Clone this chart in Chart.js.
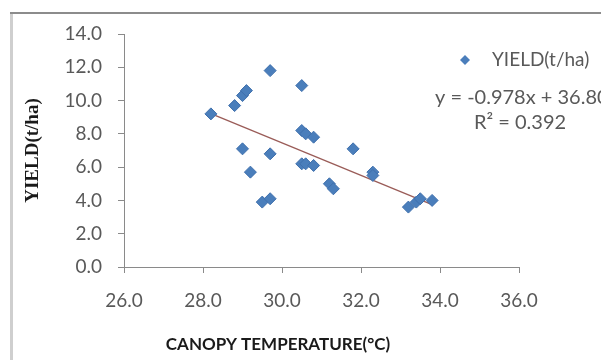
<!DOCTYPE html>
<html>
<head>
<meta charset="utf-8">
<script src="https://cdn.jsdelivr.net/npm/chart.js@4.4.1/dist/chart.umd.min.js"></script>
<style>
html, body { margin: 0; padding: 0; background: #fff; }
#wrap { position: absolute; left: 0; top: 0; width: 601px; height: 360px; }
</style>
</head>
<body>
<div id="wrap"><canvas id="myChart" width="601" height="360"></canvas></div>
<script>
// canopy temperature (°C) against yield (t/ha)
let temps  = [28.2, 28.8, 29.0, 29.1, 29.7, 30.5, 29.0, 29.7, 29.2, 29.5, 29.7, 30.5, 30.6, 30.8, 30.5, 30.6, 30.8, 31.2, 31.3, 31.8, 32.3, 32.3, 33.2, 33.4, 33.5, 33.8];
let yields = [9.2, 9.7, 10.3, 10.6, 11.8, 10.9, 7.1, 6.8, 5.7, 3.9, 4.1, 8.2, 8.0, 7.8, 6.2, 6.2, 6.1, 5.0, 4.7, 7.1, 5.7, 5.5, 3.6, 3.9, 4.1, 4.0];
let xTicks = [26, 28, 30, 32, 34, 36];
let yTicks = [0, 2, 4, 6, 8, 10, 12, 14];

// trendline printed on the chart
let slope = -0.978;
let intercept = 36.80;
let rSquared = 0.392;

let seriesName = 'YIELD(t/ha)';
let xTitle = 'CANOPY TEMPERATURE(°C)';
let yTitle = 'YIELD(t/ha)';

let points = temps.map((t, i) => ({x: t, y: yields[i]}));
let xLo = Math.min(...temps);
let xHi = Math.max(...temps);
let trend = [xLo, xHi].map(x => ({x: x, y: slope * x + intercept}));

const tickFont = {family: 'Lato', size: 19};
const grey = '#595959';
const axisCol = '#8a8a8a';

// white page and the frame that the chart sits in
const framePlugin = {
    id: 'frame',
    beforeDraw(chart) {
        let c = chart.ctx;
        c.save();
        c.fillStyle = '#fff';
        c.fillRect(0, 0, chart.width, chart.height);
        c.strokeStyle = '#cfcfcf';
        c.lineWidth = 3;
        c.beginPath();
        c.moveTo(11.5, 12);
        c.lineTo(11.5, chart.height);
        c.stroke();
        c.strokeStyle = '#8c8c8c';
        c.lineWidth = 2;
        c.beginPath();
        c.moveTo(10, 13);
        c.lineTo(chart.width, 13);
        c.stroke();
        c.restore();
    }
};

// legend, trendline equation and x title
const notesPlugin = {
    id: 'notes',
    afterDraw(chart) {
        let c = chart.ctx;
        c.save();
        // legend marker
        c.fillStyle = '#4a7ebb';
        c.beginPath();
        c.moveTo(465, 55);
        c.lineTo(470, 60);
        c.lineTo(465, 65);
        c.lineTo(460, 60);
        c.closePath();
        c.fill();

        c.fillStyle = grey;
        c.font = '19px Lato';
        c.textBaseline = 'middle';
        c.textAlign = 'left';
        c.fillText(seriesName, 492, 60);
        c.font = '20px Lato';
        let sign = intercept < 0 ? ' - ' : ' + ';
        c.fillText('y = ' + slope.toFixed(3) + 'x' + sign + Math.abs(intercept).toFixed(2), 435, 98);
        c.textAlign = 'center';
        c.fillText('R² = ' + rSquared.toFixed(3), 520, 123);

        c.fillStyle = '#1a1a1a';
        c.font = 'bold 17px Lato';
        c.fillText(xTitle, 278, 345);
        c.restore();
    }
};

let ctx = document.getElementById('myChart').getContext('2d');
let myChart = new Chart(ctx, {
    type: 'scatter',
    data: {
        datasets: [{
            label: seriesName,
            data: points,
            pointStyle: 'rectRot',
            pointRadius: 6,
            pointHoverRadius: 6,
            backgroundColor: '#4a7ebb',
            borderColor: '#3f70ad',
            borderWidth: 1
        }, {
            label: 'trend',
            type: 'line',
            data: trend,
            showLine: true,
            pointRadius: 0,
            borderColor: '#9a5c58',
            borderWidth: 1.3,
            fill: false
        }]
    },
    options: {
        responsive: false,
        animation: false,
        devicePixelRatio: 1,
        layout: {padding: {left: 0, top: 34, right: 82, bottom: 0}},
        plugins: {
            legend: {display: false},
            tooltip: {enabled: false}
        },
        scales: {
            x: {
                type: 'linear',
                min: xTicks[0],
                max: xTicks[xTicks.length - 1],
                afterBuildTicks: s => { s.ticks = xTicks.map(v => ({value: v})); },
                afterFit: s => { s.height = 93; },
                grid: {display: true, drawOnChartArea: false, tickLength: 6, color: axisCol},
                border: {color: axisCol, width: 1},
                ticks: {
                    font: tickFont,
                    color: grey,
                    padding: 16,
                    maxRotation: 0,
                    callback: v => Number(v).toFixed(1)
                }
            },
            y: {
                type: 'linear',
                min: yTicks[0],
                max: yTicks[yTicks.length - 1],
                afterBuildTicks: s => { s.ticks = yTicks.map(v => ({value: v})); },
                afterFit: s => { s.width = 124; },
                grid: {display: true, drawOnChartArea: false, tickLength: 6, color: axisCol},
                border: {color: axisCol, width: 1},
                ticks: {
                    font: tickFont,
                    color: grey,
                    padding: 16,
                    callback: v => Number(v).toFixed(1)
                },
                title: {
                    display: true,
                    text: yTitle,
                    font: {family: 'Liberation Serif', size: 19, weight: 'bold'},
                    color: '#1a1a1a',
                    padding: {top: 22, bottom: 0}
                }
            }
        }
    },
    plugins: [framePlugin, notesPlugin]
});
</script>
</body>
</html>
